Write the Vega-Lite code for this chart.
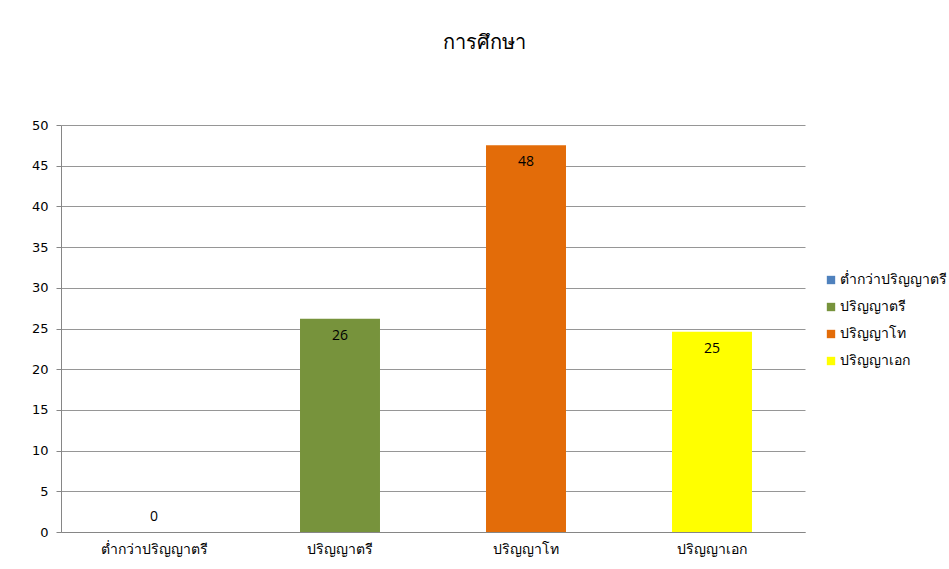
{
  "$schema": "https://vega.github.io/schema/vega-lite/v6.json",
  "width": 744,
  "height": 407,
  "autosize": "none",
  "padding": {"left": 61, "top": 125, "right": 144, "bottom": 37},
  "background": "white",
  "title": {
    "text": "การศึกษา",
    "fontSize": 20,
    "fontWeight": "normal",
    "font": "Tahoma, DejaVu Sans, sans-serif",
    "color": "#000000",
    "anchor": "middle",
    "dx": 51,
    "offset": 66
  },
  "data": {
    "values": [
      {"level": "ต่ำกว่าปริญญาตรี", "value": 0},
      {"level": "ปริญญาตรี", "value": 26.2},
      {"level": "ปริญญาโท", "value": 47.5},
      {"level": "ปริญญาเอก", "value": 24.6}
    ]
  },
  "encoding": {
    "x": {
      "field": "level",
      "type": "nominal",
      "sort": null,
      "scale": {"paddingInner": 0.57, "paddingOuter": 0.285},
      "axis": {
        "title": null,
        "labelAngle": 0,
        "labelFontSize": 14,
        "labelFont": "Tahoma, DejaVu Sans, sans-serif",
        "labelColor": "#000000",
        "labelPadding": 10,
        "ticks": false,
        "domainColor": "#868686",
        "grid": false
      }
    },
    "y": {
      "field": "value",
      "type": "quantitative",
      "scale": {"domain": [0, 50]},
      "axis": {
        "title": null,
        "values": [0, 5, 10, 15, 20, 25, 30, 35, 40, 45, 50],
        "labelFontSize": 13,
        "labelFont": "Tahoma, DejaVu Sans, sans-serif",
        "labelColor": "#000000",
        "labelPadding": 8,
        "tickSize": 5,
        "tickColor": "#868686",
        "domainColor": "#868686",
        "gridColor": "#969696"
      }
    }
  },
  "layer": [
    {
      "mark": {"type": "bar"},
      "encoding": {
        "color": {
          "field": "level",
          "type": "nominal",
          "sort": null,
          "scale": {"range": ["#4F81BD", "#77933C", "#E36C09", "#FFFF00"]},
          "legend": {
            "title": null,
            "orient": "none",
            "legendX": 763,
            "legendY": 148,
            "symbolType": "square",
            "symbolSize": 70,
            "symbolStrokeWidth": 0,
            "labelFontSize": 14,
            "labelFont": "Tahoma, DejaVu Sans, sans-serif",
            "labelColor": "#000000",
            "labelOffset": 2,
            "rowPadding": 13
          }
        }
      }
    },
    {
      "transform": [{"filter": "datum.value > 0"}],
      "mark": {"type": "text", "baseline": "middle", "dy": 17, "fontSize": 14, "font": "Open Sans, sans-serif", "color": "#000000"},
      "encoding": {"text": {"field": "value", "type": "quantitative", "format": ".0f"}}
    },
    {
      "transform": [{"filter": "datum.value <= 0"}],
      "mark": {"type": "text", "baseline": "middle", "dy": -15, "fontSize": 14, "font": "Open Sans, sans-serif", "color": "#000000"},
      "encoding": {"text": {"field": "value", "type": "quantitative", "format": ".0f"}}
    }
  ],
  "config": {"view": {"stroke": null}}
}
